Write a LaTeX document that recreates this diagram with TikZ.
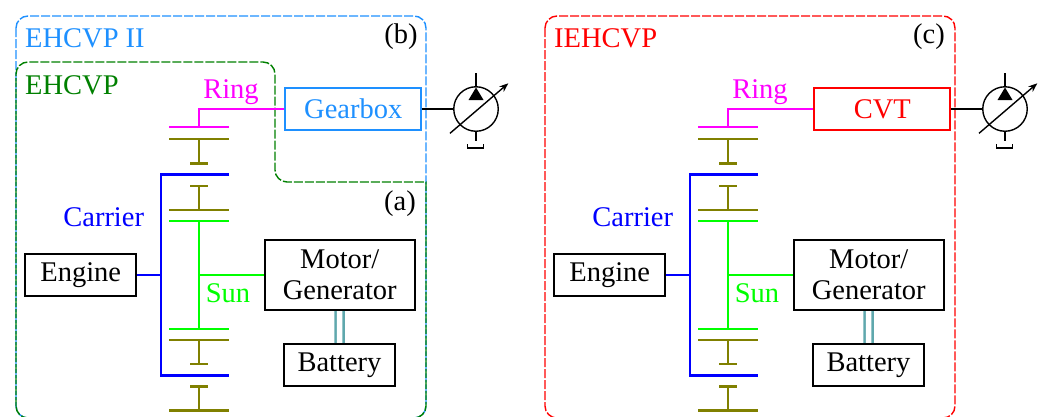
\documentclass[tikz,border=0pt]{standalone}
\usepackage{fontspec}
\setmainfont{Liberation Serif}
\usetikzlibrary{arrows.meta}
\definecolor{gearblue}{RGB}{30,144,255}
\definecolor{darkgreen}{RGB}{0,128,0}
\definecolor{planetcol}{RGB}{128,128,0}
\definecolor{ringcol}{RGB}{255,0,255}
\definecolor{suncol}{RGB}{0,255,0}
\definecolor{wirecol}{RGB}{95,168,173}
\tikzset{
  box/.style={draw, line width=2.4pt, inner sep=0pt, align=center, minimum height=42pt},
  frame/.style={line width=1.4pt, dash pattern=on 9pt off 2pt, rounded corners=12pt},
  planet/.style={draw=planetcol, line width=2.4pt},
  carrier/.style={draw=blue, line width=2.4pt},
  sun/.style={draw=suncol, line width=2.4pt},
  ring/.style={draw=ringcol, line width=2.4pt},
  shaft/.style={line width=2.4pt},
  wire/.style={draw=wirecol, line width=2.4pt, double, double distance=5.6pt},
  pump/.style={line width=1.4pt},
  tag/.style={anchor=base, inner sep=0pt}
}
\begin{document}
\begin{tikzpicture}[x=1pt, y=-1pt, font=\fontsize{28.5}{31}\selectfont]
  \clip (0,0) rectangle (1046,416);
  % frames
  \draw[frame, gearblue] (16,16) rectangle (426,418);
  \draw[frame, darkgreen] (16,418) -- (16,62) -- (275,62) -- (275,182) {[sharp corners] -- (426,182)} -- (426,418) -- cycle;
  \draw[frame, red] (545,16) rectangle (955,418);
  \node[tag, anchor=base west, text=gearblue] (labelb) at (25,47) {EHCVP II};
  \node[tag, anchor=base west, text=darkgreen] (labela) at (25,94) {EHCVP};
  \node[tag, anchor=base west, text=red] (labelc) at (554,47) {IEHCVP};
  \node[tag] (tagb) at (401,43.5) {(b)};
  \node[tag] (taga) at (400,210) {(a)};
  \node[tag] (tagc) at (929,43.5) {(c)};
  \foreach \side/\dx/\cvt/\col in {l/0/Gearbox/gearblue, r/529/CVT/red} {
    \begin{scope}[xshift=\dx pt]
      % gears
      \foreach \w/\s in {139/163.5, 210/186, 339.7/364, 410.3/386.3}
        \draw[planet] (169,\w) -- (229,\w) (199,\w) -- (199,\s) (190,\s) -- (208,\s);
      \draw[sun] (169,220.7) -- (229,220.7) (169,329) -- (229,329) (199,220.7) -- (199,329);
      \draw[carrier] (229,174.5) -- (161,174.5) -- (161,375.3) -- (229,375.3);
      \draw[ring] (169,127) -- (229,127);
      % boxes
      \node[box, minimum width=111pt] (engine\side) at (80.75,275) {Engine};
      \node[box, minimum width=150pt, minimum height=70pt] (motor\side) at (339.75,275) {Motor/\\Generator};
      \node[box, minimum width=111pt] (battery\side) at (339.5,365) {Battery};
      \node[box, minimum width=136pt, draw=\col, text=\col] (cvt\side) at (353.25,109) {\cvt};
      \node[tag, text=ringcol] (ringtxt\side) at (231,98) {Ring};
      \node[tag, text=blue] (carriertxt\side) at (103.7,226) {Carrier};
      \node[tag, text=suncol] (suntxt\side) at (228,302) {Sun};
      % connectors
      \coordinate (carrierin\side) at (161,275);
      \coordinate (sunout\side) at (199,275);
      \coordinate (ringin\side) at (199,127);
      \node[draw, circle, pump, minimum size=44.5pt, inner sep=0pt] (pump\side) at (476,109) {};
      \draw[carrier] (engine\side) -- (carrierin\side);
      \draw[sun] (sunout\side) -- (motor\side);
      \draw[ring] (ringin\side) |- (cvt\side);
      \draw[shaft] (cvt\side) -- (pump\side);
      \draw[wire] (motor\side) -- (battery\side);
      % pump
      \draw[pump] (pump\side.north) -- ++(0,-13.5) (pump\side.south) -- ++(0,9.5);
      \draw[pump] (467.7,144) -- (467.7,148) -- (483.3,148) -- (483.3,144);
      \fill (476,87.5) -- (483.5,100) -- (468.5,100) -- cycle;
      \draw[pump, -{Stealth[length=9pt, width=7pt]}] (450,133.3) -- (508.3,83.3);
    \end{scope}
  }
\end{tikzpicture}
\end{document}
